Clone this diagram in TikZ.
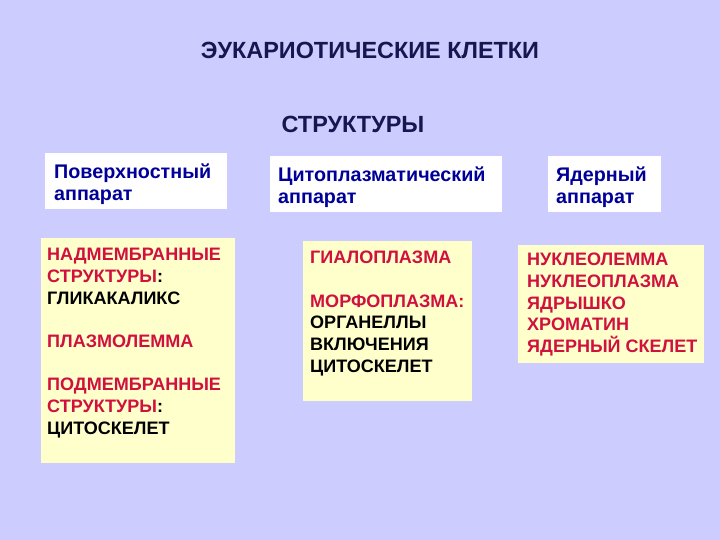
\documentclass[tikz,border=0pt]{standalone}
\usepackage{fontspec}
\setmainfont{Liberation Sans}
\definecolor{bg}{HTML}{CCCCFF}
\definecolor{hdr}{HTML}{FFFFFF}
\definecolor{cnt}{HTML}{FFFFCC}
\definecolor{navy}{HTML}{161650}
\definecolor{hblue}{HTML}{000099}
\definecolor{itred}{HTML}{D0103F}
\begin{document}
\begin{tikzpicture}[x=1bp,y=-1bp,
  hdrbox/.style={fill=hdr,draw=none},
  cntbox/.style={fill=cnt,draw=none},
  title/.style={font=\fontsize{23.5}{28}\selectfont\bfseries,text=navy,inner sep=0},
  htext/.style={font=\fontsize{19.8}{22}\selectfont\bfseries,text=hblue,align=left,anchor=north west,inner sep=0},
  ctext/.style={font=\fontsize{18.1}{21.8}\selectfont\bfseries,align=left,anchor=north west,inner sep=0}]
\fill[bg] (0,0) rectangle (720,540);
\useasboundingbox (0,0) rectangle (720,540);
\node[title] (t1) at (370,50) {ЭУКАРИОТИЧЕСКИЕ КЛЕТКИ};
\node[title] (t2) at (353,124) {СТРУКТУРЫ};
% boxes
\fill[hdrbox] (45,153) rectangle (227,209);
\fill[hdrbox] (270,156) rectangle (502,212);
\fill[hdrbox] (548,156) rectangle (661,212);
\fill[cntbox] (41,238) rectangle (235,463);
\fill[cntbox] (303,241) rectangle (472,401);
\fill[cntbox] (518,245) rectangle (704,363);
% header texts
\node[htext] (h1) at (54,164) {Поверхностный\\аппарат};
\node[htext] (h2) at (278,167) {Цитоплазматический\\аппарат};
\node[htext] (h3) at (556,167) {Ядерный\\аппарат};
% content texts
\node[ctext] (c1) at (47,248) {\textcolor{itred}{НАДМЕМБРАННЫЕ}\\\textcolor{itred}{СТРУКТУРЫ}:\\ГЛИКАКАЛИКС\\[21.8pt]\textcolor{itred}{ПЛАЗМОЛЕММА}\\[21.8pt]\textcolor{itred}{ПОДМЕМБРАННЫЕ}\\\textcolor{itred}{СТРУКТУРЫ}:\\ЦИТОСКЕЛЕТ};
\node[ctext] (c2) at (310,251) {\textcolor{itred}{ГИАЛОПЛАЗМА}\\[21.8pt]\textcolor{itred}{МОРФОПЛАЗМА:}\\ОРГАНЕЛЛЫ\\ВКЛЮЧЕНИЯ\\ЦИТОСКЕЛЕТ};
\node[ctext,text=itred] (c3) at (527,253) {НУКЛЕОЛЕММА\\НУКЛЕОПЛАЗМА\\ЯДРЫШКО\\ХРОМАТИН\\ЯДЕРНЫЙ СКЕЛЕТ};
\end{tikzpicture}
\end{document}
